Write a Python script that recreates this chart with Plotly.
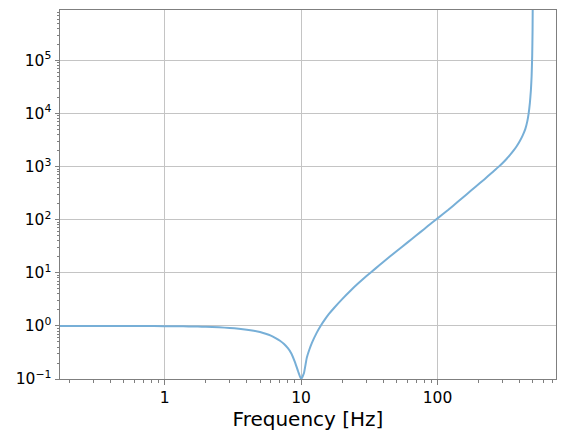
import math
import plotly.graph_objects as go

# Frequency [Hz] and response magnitude
freq = [0.171, 0.3, 0.5, 0.7, 1.0, 1.25, 1.5, 1.75, 2.0, 2.5, 3.0, 3.5, 4.0, 4.5,
        5.0, 5.5, 6.0, 6.5, 7.0, 7.5, 8.0, 8.5, 9.0, 9.5, 10.0, 10.5, 11.0, 11.5,
        12.0, 13.0, 14.0, 15.0, 16.0, 17.5, 20.0, 23.0, 26.0, 30.0, 35.0, 40.0,
        50.0, 60.0, 70.0, 80.0, 90.0, 100.0, 120.0, 140.0, 163.0, 190.0, 220.0,
        250.0, 281.0, 300.0, 320.0, 340.0, 360.0, 380.0, 400.0, 420.0, 440.0,
        455.0, 465.0, 475.0, 483.0, 489.0, 494.0, 497.0, 499.0]
magnitude = [1.0, 1.0, 0.998, 0.995, 0.99, 0.985, 0.978, 0.97, 0.96, 0.94, 0.915,
             0.885, 0.85, 0.81, 0.765, 0.71, 0.655, 0.59, 0.525, 0.455, 0.38, 0.30,
             0.21, 0.14, 0.1, 0.13, 0.25, 0.36, 0.48, 0.74, 1.03, 1.34, 1.68, 2.2,
             3.2, 4.6, 6.2, 8.6, 12.0, 16.0, 25.5, 37.0, 51.0, 67.0, 86.0, 106.0,
             154.0, 215.0, 300.0, 418.0, 575.0, 768.0, 1000.0, 1174.0, 1393.0,
             1661.0, 1993.0, 2422.0, 3004.0, 3835.0, 5141.0, 7190.0, 9960.0,
             15900.0, 27100.0, 50300.0, 125800.0, 374000.0, 1860000.0]

x_ticks = [1, 10, 100]
x_ticktext = ["1", "10", "100"]
y_ticks = [0.1, 1, 10, 100, 1000, 10000, 100000]
y_ticktext = ["10<sup>−1</sup>", "10<sup>0</sup>", "10<sup>1</sup>", "10<sup>2</sup>",
              "10<sup>3</sup>", "10<sup>4</sup>", "10<sup>5</sup>"]
x_label = "Frequency [Hz]"

FONT = "DejaVu Sans"
SPINE = "#7f7f7f"
GRID = "#c4c4c4"
TICKSIZE = 15.5
PAGE_OFFSET = 8  # default body margin of the html page


def minor_vals(lo_exp, hi_exp):
    vals = []
    for e in range(lo_exp, hi_exp + 1):
        for m in range(2, 10):
            vals.append(m * 10.0 ** e)
    return vals


fig = go.Figure()
fig.add_trace(go.Scatter(
    x=freq, y=magnitude, mode="lines",
    line=dict(color="#77afd7", width=2, shape="spline", smoothing=0.4),
    showlegend=False, hoverinfo="skip",
))

fig.update_layout(
    width=565 - PAGE_OFFSET, height=443 - PAGE_OFFSET,
    margin=dict(l=60 - PAGE_OFFSET, r=9, t=10 - PAGE_OFFSET, b=64, autoexpand=False),
    paper_bgcolor="white", plot_bgcolor="white",
    font=dict(family=FONT, color="black", size=TICKSIZE),
)
fig.update_xaxes(
    type="log", automargin=False,
    range=[math.log10(0.171), math.log10(738)],
    tickmode="array", tickvals=x_ticks, ticktext=x_ticktext,
    ticks="outside", ticklen=4.5, tickwidth=1, tickcolor=SPINE,
    tickfont=dict(family=FONT, size=TICKSIZE, color="black"),
    showgrid=True, gridcolor=GRID, gridwidth=1,
    showline=True, linecolor=SPINE, linewidth=1, mirror=True,
    zeroline=False,
    minor=dict(tickmode="array", tickvals=minor_vals(-1, 2), ticks="outside",
               ticklen=2.5, tickwidth=1, tickcolor=SPINE, showgrid=False),
    title=dict(text=x_label, font=dict(family=FONT, size=20, color="black"),
               standoff=1),
)
fig.update_yaxes(
    type="log", automargin=False,
    range=[-1, 5.95],
    tickmode="array", tickvals=y_ticks, ticktext=y_ticktext,
    ticks="outside", ticklen=4.5, tickwidth=1, tickcolor=SPINE,
    tickfont=dict(family=FONT, size=TICKSIZE, color="black"),
    showgrid=True, gridcolor=GRID, gridwidth=1,
    showline=True, linecolor=SPINE, linewidth=1, mirror=True,
    zeroline=False,
    minor=dict(tickmode="array", tickvals=minor_vals(-1, 5), ticks="outside",
               ticklen=2.5, tickwidth=1, tickcolor=SPINE, showgrid=False),
)

fig.write_html("out.html")
